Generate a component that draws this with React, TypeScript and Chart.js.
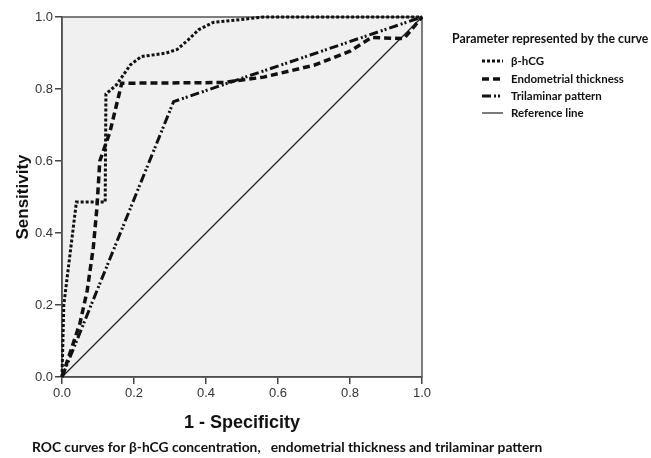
import React, { useEffect, useRef } from "react";
import { Chart, registerables } from "chart.js";
Chart.register(...registerables);

// ---- data ----
const tickValues = [0, 0.2, 0.4, 0.6, 0.8, 1.0];

const hcgFpr = [0, 0.005, 0.04, 0.12, 0.122, 0.15, 0.19, 0.22, 0.29, 0.32, 0.35, 0.38, 0.42, 0.47, 0.56, 1.0];
const hcgTpr = [0, 0.2, 0.486, 0.486, 0.786, 0.81, 0.867, 0.89, 0.9, 0.91, 0.936, 0.965, 0.985, 0.99, 1.0, 1.0];

const endoFpr = [0, 0.01, 0.05, 0.07, 0.087, 0.097, 0.105, 0.133, 0.15, 0.166, 0.45, 0.56, 0.7, 0.8, 0.86, 0.95, 1.0];
const endoTpr = [0, 0.03, 0.15, 0.24, 0.36, 0.47, 0.6, 0.68, 0.75, 0.816, 0.818, 0.833, 0.866, 0.905, 0.943, 0.94, 1.0];

const triFpr = [0, 0.31, 1.0];
const triTpr = [0, 0.765, 1.0];

const refFpr = [0, 1];
const refTpr = [0, 1];

const seriesNames = ["β-hCG", "Endometrial thickness", "Trilaminar pattern", "Reference line"];
const legendTitle = "Parameter represented by the curve";
const xTitle = "1 - Specificity";
const yTitle = "Sensitivity";
const caption = "ROC curves for β-hCG concentration,   endometrial thickness and trilaminar pattern";

const toPts = (xs: number[], ys: number[]) => xs.map((x, i) => ({ x, y: ys[i] }));

const framePlugin = {
  id: "frame",
  beforeDraw(chart: any) {
    const { ctx, chartArea } = chart;
    const { left, top, right, bottom } = chartArea;
    ctx.save();
    ctx.fillStyle = "#ffffff";
    ctx.fillRect(0, 0, chart.width, chart.height);
    ctx.fillStyle = "#f0f0f0";
    ctx.fillRect(left, top, right - left, bottom - top);
    ctx.restore();
  },
  beforeDatasetsDraw(chart: any) {
    const { ctx, chartArea } = chart;
    const { left, top, right, bottom } = chartArea;
    ctx.save();
    ctx.strokeStyle = "#555";
    ctx.lineWidth = 1.5;
    ctx.strokeRect(left, top, right - left, bottom - top);
    ctx.restore();
  },
  afterDraw(chart: any) {
    const { ctx } = chart;
    ctx.save();
    ctx.fillStyle = "#111";
    ctx.textBaseline = "middle";
    ctx.font = "bold 12.3px Lato, 'Open Sans', sans-serif";
    ctx.fillText(legendTitle, 452, 39);
    ctx.font = "bold 11.5px Lato, 'Open Sans', sans-serif";
    const ys = [61, 79, 96, 113];
    chart.data.datasets.forEach((ds: any, i: number) => {
      const y = ys[i];
      ctx.save();
      ctx.strokeStyle = ds.borderColor;
      ctx.lineWidth = ds.borderWidth;
      ctx.setLineDash(ds.borderDash || []);
      ctx.beginPath();
      ctx.moveTo(482, y);
      ctx.lineTo(503, y);
      ctx.stroke();
      ctx.restore();
      ctx.fillText(ds.label, 511, y);
    });
    ctx.font = "bold 13.8px Lato, 'Open Sans', sans-serif";
    ctx.fillText(caption, 32, 448);
    ctx.restore();
  },
};

export default function App() {
  const ref = useRef<HTMLCanvasElement>(null);
  useEffect(() => {
    if (!ref.current) return;
    const tickFont = { family: "'Liberation Sans', Arial, sans-serif", size: 13 };
    const chart = new Chart(ref.current, {
      type: "line",
      data: {
        datasets: [
          { label: seriesNames[0], data: toPts(hcgFpr, hcgTpr), borderColor: "#111", borderWidth: 3, borderDash: [3, 2], pointRadius: 0, tension: 0, fill: false },
          { label: seriesNames[1], data: toPts(endoFpr, endoTpr), borderColor: "#111", borderWidth: 3.5, borderDash: [7, 4], pointRadius: 0, tension: 0, fill: false },
          { label: seriesNames[2], data: toPts(triFpr, triTpr), borderColor: "#111", borderWidth: 3, borderDash: [9, 3, 2, 2, 2, 3], pointRadius: 0, tension: 0, fill: false },
          { label: seriesNames[3], data: toPts(refFpr, refTpr), borderColor: "#222", borderWidth: 1.2, borderDash: [], pointRadius: 0, tension: 0, fill: false },
        ],
      },
      options: {
        animation: false,
        responsive: false,
        clip: false as any,
        layout: { padding: { left: 0, top: 17, right: 229, bottom: 0 } },
        plugins: { legend: { display: false }, tooltip: { enabled: false }, title: { display: false } },
        scales: {
          x: {
            type: "linear",
            min: 0,
            max: 1,
            afterBuildTicks: (s: any) => { s.ticks = tickValues.map((v) => ({ value: v })); },
            afterFit: (s: any) => { s.height = 81; },
            ticks: { callback: (v: any) => Number(v).toFixed(1), font: tickFont, color: "#333", padding: 2, maxRotation: 0 },
            grid: { display: true, drawOnChartArea: false, drawTicks: true, tickLength: 7, color: "#444", lineWidth: 1.5 },
            border: { display: true, color: "#444", width: 1.5 },
            title: { display: true, text: xTitle, font: { family: "'Liberation Sans', Arial, sans-serif", size: 18, weight: "bold" }, color: "#111", padding: { top: 0, bottom: 24 } },
          },
          y: {
            type: "linear",
            min: 0,
            max: 1,
            afterBuildTicks: (s: any) => { s.ticks = tickValues.map((v) => ({ value: v })); },
            afterFit: (s: any) => { s.width = 62; },
            ticks: { callback: (v: any) => Number(v).toFixed(1), font: tickFont, color: "#333", padding: 2 },
            grid: { display: true, drawOnChartArea: false, drawTicks: true, tickLength: 7, color: "#444", lineWidth: 1.5 },
            border: { display: true, color: "#444", width: 1.5 },
            title: { display: true, text: yTitle, font: { family: "'Liberation Sans', Arial, sans-serif", size: 17, weight: "bold" }, color: "#111", padding: { top: 13, bottom: 0 } },
          },
        },
      } as any,
      plugins: [framePlugin],
    });
    return () => chart.destroy();
  }, []);
  return (
    <div style={{ position: "fixed", left: 0, top: 0, width: 651, height: 458, background: "#fff" }}>
      <canvas ref={ref} width={651} height={458} style={{ display: "block", width: 651, height: 458 }} />
    </div>
  );
}
